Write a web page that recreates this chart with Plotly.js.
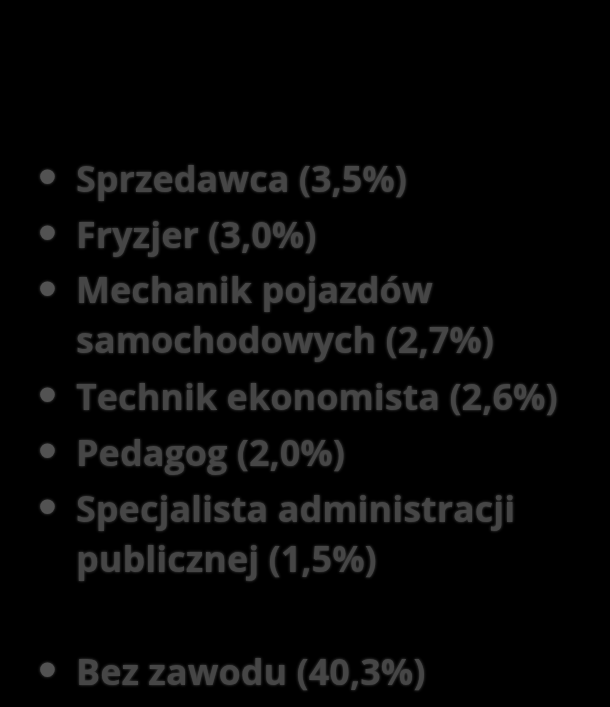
<!DOCTYPE html>
<html>
<head>
<meta charset="utf-8">
<script src="https://cdn.plot.ly/plotly-3.0.1.min.js"></script>
<style>html,body{margin:0;padding:0;background:#000;}#chart{width:610px;height:707px;filter:blur(0.7px);}</style>
</head>
<body>
<div id="chart"></div>
<script>
// Data
var occupations = ["Sprzedawca", "Fryzjer", "Mechanik pojazdów|samochodowych", "Technik ekonomista", "Pedagog", "Specjalista administracji|publicznej", "Bez zawodu"];
var shares = [3.5, 3.0, 2.7, 2.6, 2.0, 1.5, 40.3];
var blankBefore = [0, 0, 0, 0, 0, 0, 1];

var W = 610, H = 707;
var fontSize = 36;
var itemStep = 56, wrapStep = 50, blankStep = 57;
var firstY = 177;          // centre of first bullet, px from top
var textX = 74, bulletX = 47;
var textDy = 1;            // vertical nudge of text relative to bullet centre

function fmt(v){ return v.toFixed(1).replace('.', ',') + '%'; }

var textFont = {family: '"Open Sans", Lato, sans-serif', size: fontSize, color: '#464646', weight: 700,
                shadow: '0px 0px 3px rgba(170,170,170,0.45)'};
var ann = [];
var y = firstY;
for (var i = 0; i < occupations.length; i++) {
  if (blankBefore[i]) y += blankStep;
  var lines = (occupations[i] + ' (' + fmt(shares[i]) + ')').split('|');
  ann.push({
    xref: 'paper', yref: 'paper', x: bulletX / W, y: 1 - (y - 1) / H,
    xanchor: 'center', yanchor: 'middle', showarrow: false, text: '•',
    font: {family: 'Arial, sans-serif', size: 54, color: '#525252', shadow: '0px 0px 3px rgba(170,170,170,0.45)'}
  });
  for (var k = 0; k < lines.length; k++) {
    ann.push({
      xref: 'paper', yref: 'paper', x: textX / W, y: 1 - (y + textDy) / H,
      xanchor: 'left', yanchor: 'middle', align: 'left', showarrow: false,
      text: lines[k], font: textFont
    });
    if (k < lines.length - 1) y += wrapStep;
  }
  y += itemStep;
}

var layout = {
  width: W, height: H,
  margin: {l: 0, r: 0, t: 0, b: 0},
  paper_bgcolor: '#000', plot_bgcolor: '#000',
  xaxis: {visible: false, range: [0, 1]},
  yaxis: {visible: false, range: [0, 1]},
  showlegend: false,
  annotations: ann
};
Plotly.newPlot('chart', [], layout, {staticPlot: true, displayModeBar: false});
</script>
</body>
</html>
